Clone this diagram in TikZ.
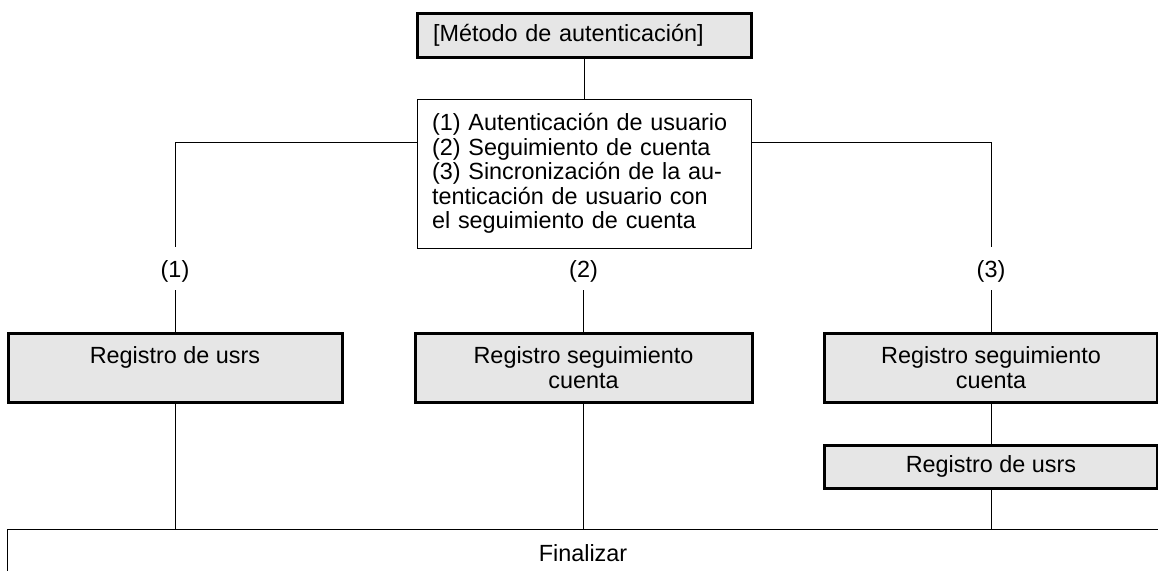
\documentclass[tikz,border=0pt]{standalone}
\usepackage{fontspec}
\setmainfont{Liberation Sans}
\definecolor{boxgray}{HTML}{E6E6E6}
\begin{document}
\begin{tikzpicture}[x=1pt,y=-1pt,
  txt/.style={font=\fontsize{23.4pt}{24.6pt}\selectfont},
  thinln/.style={line width=1pt},
  topbox/.style={txt, draw, line width=3pt, fill=boxgray, minimum height=44pt,
    text width=302pt, inner xsep=16pt, align=left},
  descbox/.style={txt, draw, thinln, minimum height=149pt,
    text width=304pt, inner xsep=15pt, align=left},
  regbox/.style={txt, draw, line width=3pt, fill=boxgray, minimum height=69pt,
    align=center, inner xsep=0pt},
  lbl/.style={txt, inner sep=0pt, text height=18.8pt, text depth=0pt, minimum height=43pt},
  finbox/.style={txt, inner sep=0pt, minimum width=1150pt, minimum height=46pt}
]
\useasboundingbox (0,0) rectangle (1158,570);
\clip (0,0) rectangle (1158,570);

\node[topbox] (meth) at (584,35) {[Método de autenticación]};
\node[descbox] (desc) at (584,173.5) {(1) Autenticación de usuario\\(2) Seguimiento de cuenta\\(3) Sincronización de la au-\\tenticación de usuario con\\el seguimiento de cuenta};

\node[lbl] (l1) at (175,268.5) {(1)};
\node[lbl] (l2) at (583.5,268.5) {(2)};
\node[lbl] (l3) at (991,268.5) {(3)};

\node[regbox, minimum width=334pt] (r1) at (175,367.5) {Registro de usrs\\\mbox{}};
\node[regbox, minimum width=337pt] (r2) at (583.5,367.5) {Registro seguimiento\\cuenta};
\node[regbox, minimum width=333pt] (r3) at (991,367.5) {Registro seguimiento\\cuenta};
\node[regbox, minimum width=333pt, minimum height=43pt] (r4) at (991,466.5) {Registro de usrs};

\node[finbox] (fin) at (583,553) {Finalizar};

\coordinate (j1) at (175,142);
\coordinate (j3) at (991,142);

\begin{scope}[thinln]
\draw (meth.south) -- (desc.north);
\draw (desc.west |- j1) -- (j1) -- (l1.north);
\draw (desc.east |- j3) -- (j3) -- (l3.north);
\draw (l1.south) -- (r1.north);
\draw (l2.south) -- (r2.north);
\draw (l3.south) -- (r3.north);
\draw (r1.south) -- (r1.south |- fin.north);
\draw (r2.south) -- (r2.south |- fin.north);
\draw (r3.south) -- (r4.north);
\draw (r4.south) -- (r4.south |- fin.north);
\draw ([xshift=10pt]fin.north east) -- (fin.north west) -- ([yshift=-10pt]fin.south west);
\end{scope}
\end{tikzpicture}
\end{document}
